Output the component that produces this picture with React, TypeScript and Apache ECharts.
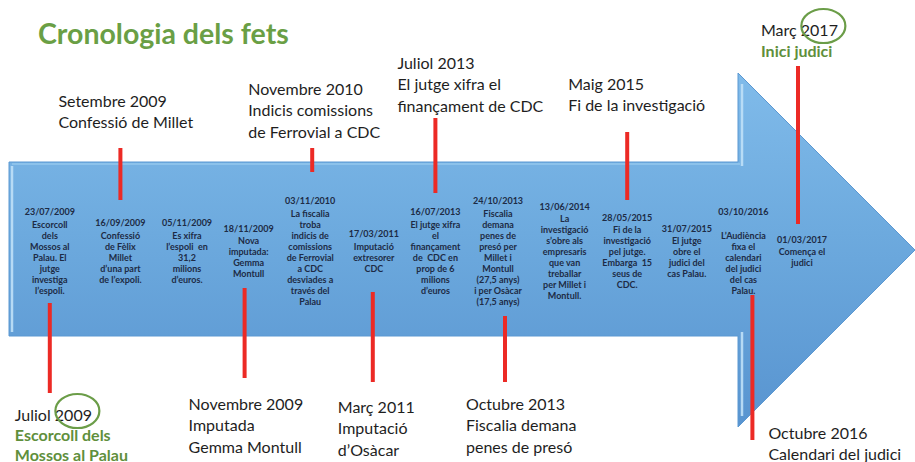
import React, { useEffect, useRef } from "react";
import * as echarts from "echarts";

// ---------------- DATA ----------------
const chartTitle = "Cronologia dels fets";

const eventDates = [
  "23/07/2009", "16/09/2009", "05/11/2009", "18/11/2009", "03/11/2010", "17/03/2011",
  "16/07/2013", "24/10/2013", "13/06/2014", "28/05/2015", "31/07/2015", "03/10/2016", "01/03/2017",
];

const eventLines: string[][] = [
  ["Escorcoll", "dels", "Mossos al", "Palau. El", "jutge", "investiga", "l’espoli."],
  ["Confessió", "de Fèlix", "Millet", "d’una part", "de l’expoli."],
  ["Es xifra", "l’espoli  en", "31,2", "milions", "d’euros."],
  ["Nova", "imputada:", "Gemma", "Montull"],
  ["La fiscalia", "troba", "indicis de", "comissions", "de Ferrovial", "a CDC", "desviades a", "través del", "Palau"],
  ["Imputació", "extresorer", "CDC"],
  ["El jutge xifra", "el", "finançament", "de  CDC en", "prop de 6", "milions", "d’euros"],
  ["Fiscalia", "demana", "penes de", "presó per", "Millet i", "Montull", "(27,5 anys)", "i per Osàcar", "(17,5 anys)"],
  ["La", "investigació", "s’obre als", "empresaris", "que van", "treballar", "per Millet i", "Montull."],
  ["Fi de la", "investigació", "pel jutge.", "Embarga  15", "seus de", "CDC."],
  ["El jutge", "obre el", "judici del", "cas Palau."],
  [" ", "L’Audiència", "fixa el", "calendari", "del judici", "del cas", "Palau."],
  ["Comença el", "judici"],
];

const calloutEvents = [1, 4, 6, 9, 12, 0, 3, 5, 7, 11];
const calloutMonths = ["Setembre", "Novembre", "Juliol", "Maig", "Març", "Juliol", "Novembre", "Març", "Octubre", "Octubre"];
const calloutYears = ["2009", "2010", "2013", "2015", "2017", "2009", "2009", "2011", "2013", "2016"];
const calloutLines: string[][] = [
  ["Confessió de Millet"],
  ["Indicis comissions", "de Ferrovial a CDC"],
  ["El jutge xifra el", "finançament de CDC"],
  ["Fi de la investigació"],
  ["Inici judici"],
  ["Escorcoll dels", "Mossos al Palau"],
  ["Imputada", "Gemma Montull"],
  ["Imputació", "d’Osàcar"],
  ["Fiscalia demana", "penes de presó"],
  ["Calendari del judici"],
];
const calloutHighlighted = [false, false, false, false, true, true, false, false, false, false];

// ---------------- LAYOUT / STYLE ----------------
const W = 915;
const H = 462;
const GRID_LEFT = 27.5;
const GRID_RIGHT = 73.7;
const ARROW_MID = 250;
const blockNudge = [-9, -1, 3, 2, 1, 2, 1, 1, 5, 5, 2, -4, -8];
const calloutLineNudge = [-1, 3, 1, 5, -12, -9, -2, 1, 8, 5];
const calloutLineSpan = [[148, 200], [148, 172], [118, 193], [132, 200], [66, 224], [303, 393], [288, 378], [292, 382], [316, 382], [295, 440]];
const calloutLabelDx = [-62, -64, -38, -59, -37, -35, -56, -35, -39, 16];
const calloutLabelY = [100, 88, 62, 83, 29, 414, 403, 406, 403, 432];
const calloutLineStep = [21.5, 21.5, 21.5, 21.5, 21.5, 20, 21.5, 21.5, 21.5, 21.5];

const FONT = "Lato, 'Open Sans', sans-serif";
const CALLOUT_SIZE = 16;
const GREEN = "#5f8f3c";
const TITLE_GREEN = "#6a9f45";
const RED = "#ec2a25";
const INK = "#1d2b45";

let measureCtx: CanvasRenderingContext2D | null = null;
function textWidth(t: string, font: string) {
  if (!measureCtx) measureCtx = document.createElement("canvas").getContext("2d");
  if (!measureCtx) return t.length * 8;
  measureCtx.font = font;
  return measureCtx.measureText(t).width;
}

export default function App() {
  const ref = useRef<HTMLDivElement>(null);

  useEffect(() => {
    if (!ref.current) return;
    const chart = echarts.init(ref.current, undefined, { renderer: "svg" });

    const arrowPts = [
      [9, 162], [738, 162], [738, 73], [915, 250], [738, 427], [738, 336], [9, 336],
    ];

    const option: any = {
      animation: false,
      grid: { left: GRID_LEFT, right: GRID_RIGHT, top: 0, bottom: 0 },
      xAxis: { type: "category", data: eventDates, show: false, boundaryGap: true },
      yAxis: { type: "value", min: 0, max: H, inverse: true, show: false },
      graphic: [
        {
          type: "polygon",
          z: 0,
          shape: { points: arrowPts },
          style: {
            fill: new echarts.graphic.LinearGradient(0, 0, 0, 1, [
              { offset: 0, color: "#80bbea" },
              { offset: 0.45, color: "#6daade" },
              { offset: 1, color: "#5894d0" },
            ]),
            stroke: "#5b98d2",
            lineWidth: 1,
          },
        },
        { type: "line", z: 1, shape: { x1: 12, y1: 166, x2: 12, y2: 332 }, style: { stroke: "#bfe0f7", lineWidth: 2.5, opacity: 0.9 } },
        { type: "line", z: 1, shape: { x1: 742, y1: 84, x2: 742, y2: 166 }, style: { stroke: "#bfe0f7", lineWidth: 2.5, opacity: 0.9 } },
        { type: "line", z: 1, shape: { x1: 742, y1: 332, x2: 742, y2: 416 }, style: { stroke: "#bfe0f7", lineWidth: 2.5, opacity: 0.9 } },
        { type: "line", z: 1, shape: { x1: 12, y1: 164, x2: 740, y2: 164 }, style: { stroke: "#9ccdf0", lineWidth: 1.5, opacity: 0.8 } },
        {
          type: "text",
          z: 5,
          x: 38,
          y: 33,
          style: {
            text: chartTitle,
            fill: TITLE_GREEN,
            font: `bold 28.5px ${FONT}`,
            verticalAlign: "middle",
          },
        },
      ],
      series: [
        {
          type: "custom",
          z: 3,
          clip: false,
          silent: true,
          data: eventDates.map((_, i) => [i, ARROW_MID]),
          renderItem: (params: any, api: any) => {
            const i = params.dataIndex;
            const p = api.coord([api.value(0), api.value(1)]);
            const lines = eventLines[i];
            const text = `{d|${eventDates[i]}}\n` + lines.map((l) => `{t|${l}}`).join("\n");
            return {
              type: "text",
              x: p[0] + blockNudge[i],
              y: p[1],
              style: {
                text,
                align: "center",
                verticalAlign: "middle",
                rich: {
                  d: { fontFamily: FONT, fontWeight: "bold", fontSize: 9, fill: INK, lineHeight: 14, align: "center" },
                  t: { fontFamily: FONT, fontWeight: "bold", fontSize: 9, fill: INK, lineHeight: 11, align: "center" },
                },
              },
            };
          },
        },
        {
          type: "custom",
          z: 4,
          clip: false,
          silent: true,
          data: calloutEvents.map((e, k) => [e, k]),
          renderItem: (params: any, api: any) => {
            const k = params.dataIndex;
            const ev = api.value(0);
            const p = api.coord([ev, calloutLineSpan[k][0]]);
            const p2 = api.coord([ev, calloutLineSpan[k][1]]);
            const lx = p[0] + calloutLineNudge[k];
            const children: any[] = [
              {
                type: "line",
                shape: { x1: lx, y1: p[1], x2: lx, y2: p2[1] },
                style: { stroke: RED, lineWidth: 4 },
              },
            ];
            const tx = lx + calloutLabelDx[k];
            const ty = api.coord([ev, calloutLabelY[k]])[1];
            const headFont = `${CALLOUT_SIZE}px ${FONT}`;
            const head = `${calloutMonths[k]} ${calloutYears[k]}`;
            children.push({
              type: "text",
              x: tx,
              y: ty,
              style: { text: head, font: headFont, fill: "#1e1e1e", verticalAlign: "middle", align: "left" },
            });
            const hl = calloutHighlighted[k];
            if (hl) {
              const wm = textWidth(calloutMonths[k] + " ", headFont);
              const wy = textWidth(calloutYears[k], headFont);
              const cx = tx + wm + wy / 2 + 4;
              const cy = ty - 3;
              const rx = 22;
              const ry = 17;
              children.push({
                type: "path",
                shape: {
                  pathData: `M ${cx - rx} ${cy} A ${rx} ${ry} 0 1 0 ${cx + rx} ${cy} A ${rx} ${ry} 0 1 0 ${cx - rx} ${cy} Z`,
                },
                style: { fill: "none", stroke: "#6b9d48", lineWidth: 2.2 },
              });
            }
            calloutLines[k].forEach((line, j) => {
              children.push({
                type: "text",
                x: tx,
                y: ty + (j + 1) * calloutLineStep[k],
                style: {
                  text: line,
                  font: hl ? `bold ${CALLOUT_SIZE}px ${FONT}` : headFont,
                  fill: hl ? GREEN : "#1e1e1e",
                  verticalAlign: "middle",
                  align: "left",
                },
              });
            });
            return { type: "group", children };
          },
        },
      ],
    };

    chart.setOption(option);
    return () => chart.dispose();
  }, []);

  return (
    <div
      ref={ref}
      style={{ position: "fixed", left: 0, top: 0, width: W, height: H, background: "#ffffff" }}
    />
  );
}
